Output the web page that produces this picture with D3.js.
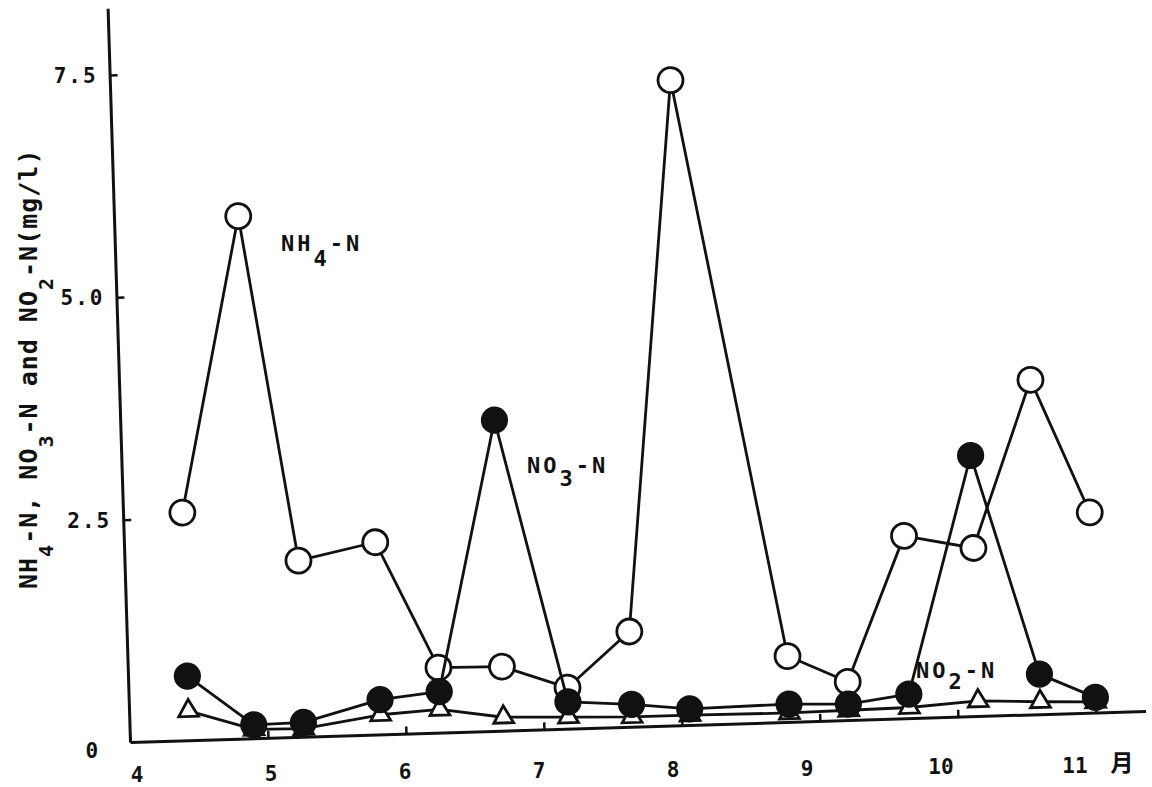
<!DOCTYPE html>
<html>
<head>
<meta charset="utf-8">
<script src="https://cdn.jsdelivr.net/npm/d3@7"></script>
<style>
  body { margin: 0; background: #fff; }
  svg { display: block; }
</style>
</head>
<body>
<svg id="chart" width="1152" height="787"></svg>
<script>
// Sampling dates (month + fraction of month) and concentrations, mg/l
const months = [4.43, 4.90, 5.26, 5.82, 6.25, 6.71, 7.18, 7.64, 8.06, 8.78, 9.21, 9.65, 10.15, 10.60, 11.00];
const nh4 = [2.56, 5.87, 1.98, 2.16, 0.73, 0.72, 0.46, 1.07, 7.25, 0.74, 0.43, 2.05, 1.89, 3.76, 2.25];
const no3 = [0.72, 0.15, 0.16, 0.39, 0.46, 3.49, 0.30, 0.25, 0.18, 0.20, 0.18, 0.27, 2.93, 0.45, 0.17];
const no2 = [0.33, 0.10, 0.09, 0.22, 0.26, 0.15, 0.13, 0.11, 0.11, 0.10, 0.11, 0.12, 0.17, 0.14, 0.12];

const monthTicks = [4, 5, 6, 7, 8, 9, 10, 11];
const monthLabels = ["4", "5", "6", "7", "8", "9", "10", "11"];
const valueTicks = [0, 2.5, 5.0, 7.5];
const valueLabels = ["0", "2.5", "5.0", "7.5"];
const monthUnit = "月";

const MONO = "'DejaVu Sans Mono', 'Liberation Mono', monospace";
const INK = "#111";

const svg = d3.select("#chart");

// Plot frame: origin at the lower-left corner, slightly tilted
const origin = [130, 742];
const tilt = -1.75;
const plotW = 1016, plotH = 734;

const x = d3.scaleLinear().domain([4, 11.36]).range([0, plotW]);
const y = d3.scaleLinear().domain([0, 8.25]).range([0, -plotH]);

const plot = svg.append("g")
  .attr("transform", `translate(${origin[0]},${origin[1]}) rotate(${tilt})`);

// Axes with short inward ticks
const xAxis = plot.append("g")
  .call(d3.axisTop(x).tickValues(monthTicks).tickSize(7).tickSizeOuter(0).tickFormat(""));
const yAxis = plot.append("g")
  .call(d3.axisRight(y).tickValues(valueTicks.filter(v => v > 0)).tickSize(8).tickSizeOuter(0).tickFormat(""));
[xAxis, yAxis].forEach(a => {
  a.select(".domain").attr("stroke", INK).attr("stroke-width", 3);
  a.selectAll(".tick line").attr("stroke", INK).attr("stroke-width", 2.5);
});

const rows = months.map((m, i) => ({ m, nh4: nh4[i], no3: no3[i], no2: no2[i] }));

function series(key) {
  const line = d3.line().x(d => x(d.m)).y(d => y(d[key]));
  plot.append("path")
    .datum(rows)
    .attr("d", line)
    .attr("fill", "none")
    .attr("stroke", INK)
    .attr("stroke-width", 2.8)
    .attr("stroke-linejoin", "round");
}

// NH4-N: open circles
series("nh4");
plot.append("g").selectAll("circle").data(rows).join("circle")
  .attr("cx", d => x(d.m)).attr("cy", d => y(d.nh4))
  .attr("r", 12.5)
  .attr("fill", "#fff").attr("stroke", INK).attr("stroke-width", 2.8);

// NO2-N: open triangles
series("no2");
const tri = d3.symbol(d3.symbolTriangle, 170);
plot.append("g").selectAll("path").data(rows).join("path")
  .attr("d", tri)
  .attr("transform", d => `translate(${x(d.m)},${y(d.no2)})`)
  .attr("fill", "#fff").attr("stroke", INK).attr("stroke-width", 2.8)
  .attr("stroke-linejoin", "miter");

// NO3-N: filled circles
series("no3");
plot.append("g").selectAll("circle").data(rows).join("circle")
  .attr("cx", d => x(d.m)).attr("cy", d => y(d.no3))
  .attr("r", 13.6)
  .attr("fill", INK);

// Value labels, kept upright next to the tilted axis
plot.append("g").selectAll("text").data(valueTicks).join("text")
  .attr("transform", v => {
    const dx = v === 0 ? -30 : -12;
    const dy = v === 0 ? 8 : 0;
    return `translate(${dx},${y(v) + dy}) rotate(${-tilt})`;
  })
  .attr("text-anchor", "end")
  .attr("dy", "0.36em")
  .attr("font-family", MONO).attr("font-weight", "bold").attr("font-size", 21)
  .attr("letter-spacing", 2)
  .attr("fill", INK)
  .text((v, i) => valueLabels[i]);

// Month labels along the bottom
const labelX = d3.scaleLinear().domain([4, 11]).range([137, 1075]);
const labelBase = d3.scaleLinear().domain([4, 11]).range([782, 773]);
svg.append("g").selectAll("text").data(monthTicks).join("text")
  .attr("x", m => labelX(m))
  .attr("y", m => labelBase(m))
  .attr("text-anchor", "middle")
  .attr("font-family", MONO).attr("font-weight", "bold").attr("font-size", 21)
  .attr("fill", INK)
  .text((m, i) => monthLabels[i]);
svg.append("text")
  .attr("x", 1122).attr("y", 771)
  .attr("text-anchor", "middle")
  .attr("font-family", "'Noto Sans CJK JP', sans-serif").attr("font-weight", "bold").attr("font-size", 23)
  .attr("fill", INK)
  .text(monthUnit);

// Chemical names with lowered subscripts
function formula(text, parts, shift, subSize) {
  let lowered = false;
  parts.forEach(([t, isSub]) => {
    const ts = text.append("tspan").text(t);
    if (isSub && !lowered) ts.attr("dy", shift);
    if (!isSub && lowered) ts.attr("dy", -shift);
    if (isSub && subSize) ts.attr("font-size", subSize);
    lowered = isSub;
  });
}

function label(px, py, parts, shift) {
  const t = svg.append("text")
    .attr("x", px).attr("y", py)
    .attr("font-family", MONO).attr("font-weight", "bold").attr("font-size", 22)
    .attr("letter-spacing", 3)
    .attr("fill", INK);
  formula(t, parts, shift);
}
label(281, 251, [["NH", false], ["4", true], ["-N", false]], 15);
label(527, 473, [["NO", false], ["3", true], ["-N", false]], 13);
label(916, 678, [["NO", false], ["2", true], ["-N", false]], 11);

// Vertical axis title
const title = svg.append("text")
  .attr("transform", "translate(37,589) rotate(-90)")
  .attr("font-family", MONO).attr("font-weight", "bold").attr("font-size", 25)
  .attr("letter-spacing", 1)
  .attr("fill", INK);
formula(title, [
  ["NH", false], ["4", true], ["-N, NO", false], ["3", true],
  ["-N and NO", false], ["2", true], ["-N(mg/l)", false]
], 16, 20);
</script>
</body>
</html>
